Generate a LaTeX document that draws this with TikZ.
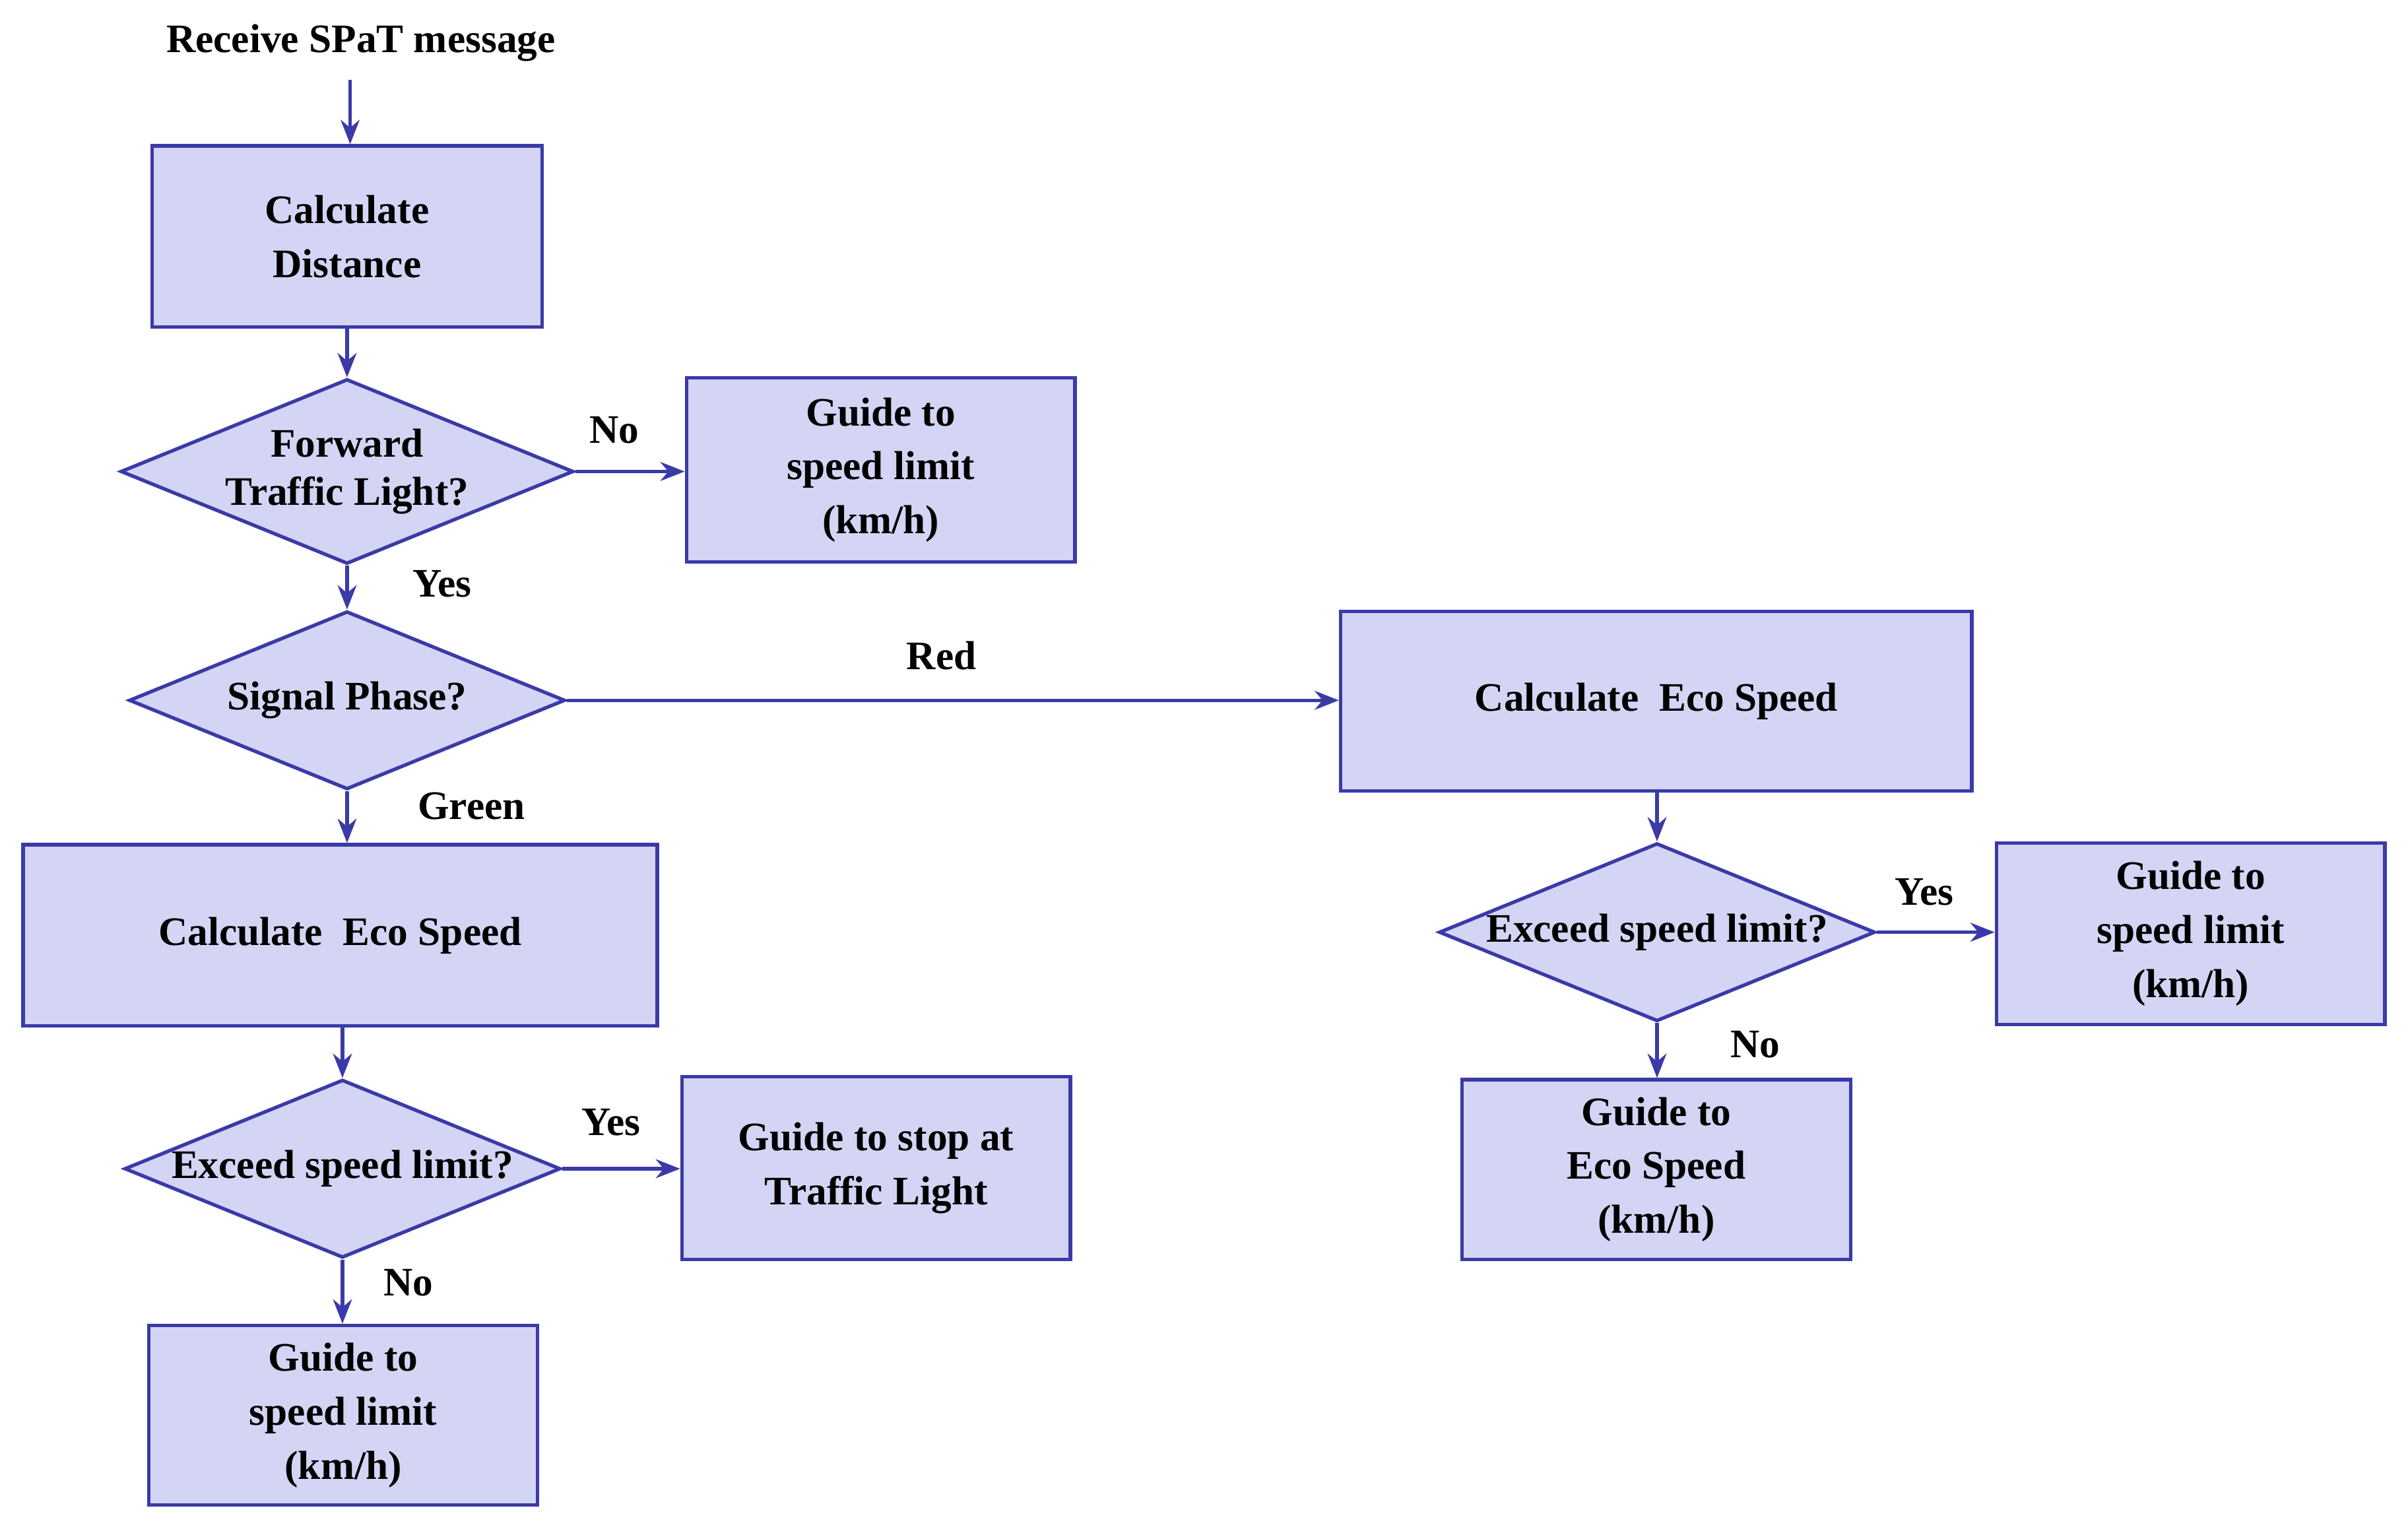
\documentclass[tikz,border=0pt]{standalone}
\usepackage{fontspec}
\setmainfont{Liberation Serif}
\usetikzlibrary{shapes.geometric,arrows.meta}
\definecolor{fillc}{RGB}{212,213,244}
\definecolor{linec}{RGB}{58,58,168}
\begin{document}
\begin{tikzpicture}[x=0.02cm,y=-0.02cm,
 box/.style={draw=linec,fill=fillc,line width=1.3pt,minimum width=#1,align=center,font=\fontsize{15}{20}\selectfont\bfseries,inner sep=0pt},
 dia/.style={draw=linec,fill=fillc,line width=1.3pt,diamond,aspect=2.45,minimum width=5.68cm,minimum height=2.32cm,inner sep=0pt,align=center,font=\fontsize{15}{18}\selectfont\bfseries},
 lab/.style={font=\fontsize{15}{18}\selectfont\bfseries},
 arr/.style={draw=linec,line width=1.3pt,-{Stealth[length=9pt,width=7pt]}}]
\useasboundingbox (0,0) rectangle (1568,998);
\newcommand\bx[6]{\node[box, minimum width={(#4-#2)*0.02cm}, minimum height={(#5-#3)*0.02cm}] (#1) at ({(#2+#4)/2},{(#3+#5)/2}) {#6};}
\node[lab] (title) at (235,28) {Receive SPaT message};
\coordinate (t0) at (228,52);
\bx{b1}{99}{95}{353}{213}{Calculate\\Distance}
\node[dia] (d1) at (226,307) {Forward\\Traffic Light?};
\bx{b2}{447}{246}{700}{366}{Guide to\\speed limit\\(km/h)}
\node[dia] (d2) at (226,456) {Signal Phase?};
\bx{b3}{873}{398}{1284}{515}{Calculate\ \ Eco Speed}
\bx{b4}{15}{550}{428}{668}{Calculate\ \ Eco Speed}
\node[dia] (d3) at (223,761) {Exceed speed limit?};
\bx{b5}{444}{701}{697}{820}{Guide to stop at\\Traffic Light}
\bx{b6}{97}{863}{350}{980}{Guide to\\speed limit\\(km/h)}
\node[dia] (d4) at (1079,607) {Exceed speed limit?};
\bx{b7}{1300}{549}{1553}{667}{Guide to\\speed limit\\(km/h)}
\bx{b8}{952}{703}{1205}{820}{Guide to\\Eco Speed\\(km/h)}
\draw[arr] (t0) -- (b1.north -| t0);
\draw[arr] (b1.south -| d1) -- (d1.north);
\draw[arr] (d1.east) -- (d1.east -| b2.west);
\draw[arr] (d1.south) -- (d2.north);
\draw[arr] (d2.east) -- (d2.east -| b3.west);
\draw[arr] (d2.south) -- (d2.south |- b4.north);
\draw[arr] (b4.south -| d3) -- (d3.north);
\draw[arr] (d3.east) -- (d3.east -| b5.west);
\draw[arr] (d3.south) -- (d3.south |- b6.north);
\draw[arr] (b3.south -| d4) -- (d4.north);
\draw[arr] (d4.east) -- (d4.east -| b7.west);
\draw[arr] (d4.south) -- (d4.south |- b8.north);
\node[lab] at (400,280) {No};
\node[lab] at (288,380) {Yes};
\node[lab] at (613,427) {Red};
\node[lab] at (307,525) {Green};
\node[lab] at (398,731) {Yes};
\node[lab] at (266,835) {No};
\node[lab] at (1253,581) {Yes};
\node[lab] at (1143,680) {No};
\end{tikzpicture}
\end{document}
